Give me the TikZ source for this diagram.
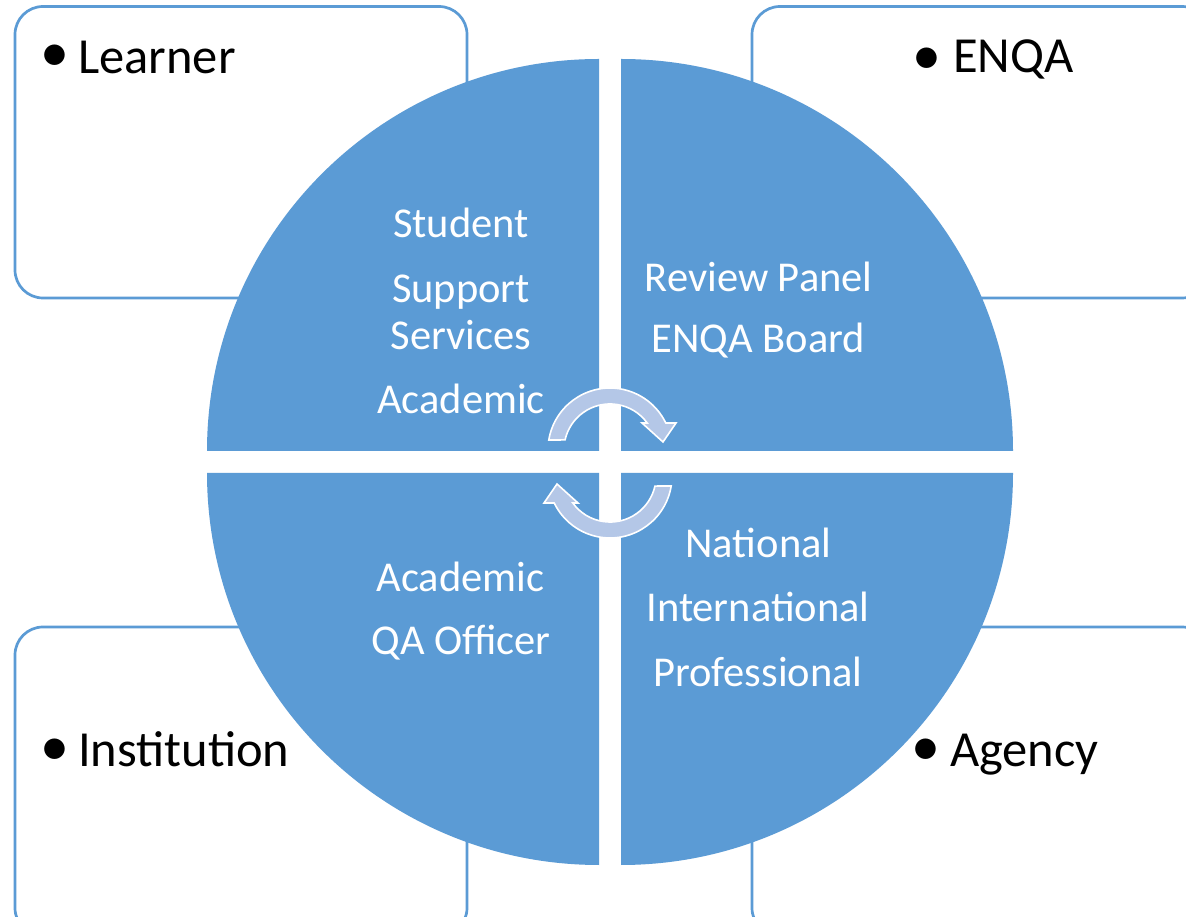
\documentclass[tikz,border=0pt]{standalone}
\usepackage{fontspec}
\setmainfont{Carlito}
\definecolor{qblue}{HTML}{5B9BD5}
\definecolor{arrowfill}{HTML}{B4C7E7}
\begin{document}
\begin{tikzpicture}[x=1pt,y=1pt,
  box/.style={draw=qblue, line width=2.7pt, fill=white, rounded corners=28pt},
  quad/.style={fill=qblue},
  cyc/.style={fill=arrowfill, draw=white, line width=1.6pt, line join=miter},
  intext/.style={text=white, font=\fontsize{42.5}{50}\selectfont, inner sep=0pt, anchor=base},
  outtext/.style={text=black, font=\fontsize{50.5}{59}\selectfont, inner sep=0pt, anchor=base west},
  bulletmark/.style={text=black, font=\fontsize{58}{66}\selectfont, inner sep=0pt, anchor=center}]
\useasboundingbox (0,0) rectangle (1186,916);
\clip (0,0) rectangle (1186,916);
\fill[white] (0,0) rectangle (1186,916);

% outer boxes
\path[box] (15,909.5) rectangle (467,618);
\path[box] (752,909.5) rectangle (1210,618);
\path[box] (15,289) rectangle (467,-20);
\path[box] (752,289) rectangle (1210,-20);

% quadrants
\fill[quad] (599,465) -- (207,465) arc[start angle=180, end angle=90, radius=392] -- cycle;
\fill[quad] (621,465) -- (621,857) arc[start angle=90, end angle=0, radius=392] -- cycle;
\fill[quad] (599,443) -- (599,51) arc[start angle=270, end angle=180, radius=392] -- cycle;
\fill[quad] (621,443) -- (1013,443) arc[start angle=0, end angle=-90, radius=392] -- cycle;

% cycle arrows
\path[cyc] (548.8,476) arc[start angle=170.7, end angle=25.8, radius=62]
  -- (676,493) -- (663,474) -- (642,493) -- (647.2,493)
  arc[start angle=35.9, end angle=167.4, radius=46] -- cycle;
\begin{scope}[rotate around={180:(610,453)}]
\path[cyc] (548.8,476) arc[start angle=170.7, end angle=25.8, radius=62]
  -- (676,493) -- (663,474) -- (642,493) -- (647.2,493)
  arc[start angle=35.9, end angle=167.4, radius=46] -- cycle;
\end{scope}

% quadrant texts
\node[intext] (tl1) at (461,678) {Student};
\node[intext] (tl2) at (461,613) {Support};
\node[intext] (tl3) at (461,566) {Services};
\node[intext] (tl4) at (461,502) {Academic};
\node[intext] (tr1) at (758.7,624.3) {Review Panel};
\node[intext] (tr2) at (758.5,563) {ENQA Board};
\node[intext] (bl1) at (460.5,324.3) {Academic};
\node[intext] (bl2) at (461,261) {QA Officer};
\node[intext] (br1) at (758.5,358.3) {National};
\node[intext] (br2) at (758,294.3) {International};
\node[intext] (br3) at (758,229.3) {Professional};

% outer texts
\node[bulletmark] (b1) at (54.5,858) {•};
\node[outtext] (learner) at (78,842) {Learner};
\node[bulletmark] (b2) at (926.5,854.5) {•};
\node[outtext] (enqa) at (953,843) {ENQA};
\node[bulletmark] (b3) at (54.5,164) {•};
\node[outtext] (inst) at (78,149) {Institution};
\node[bulletmark] (b4) at (925.7,164) {•};
\node[outtext] (agency) at (950,149) {Agency};
\end{tikzpicture}
\end{document}
